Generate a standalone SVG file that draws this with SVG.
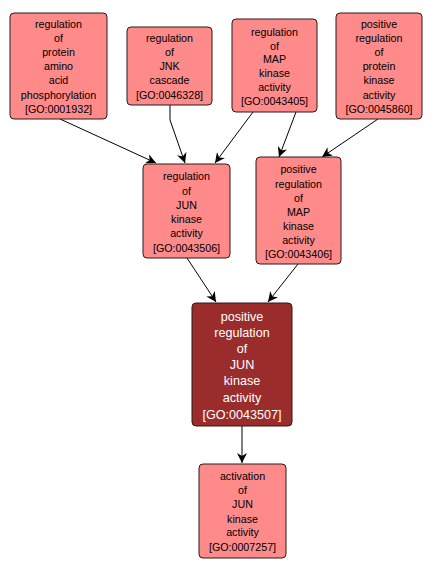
<svg xmlns="http://www.w3.org/2000/svg" width="433" height="571" viewBox="0 0 433 571">
<style>
.n rect{fill:#FF8A8A;stroke:#2a1a1a;stroke-width:1}
.n text{font-family:"Liberation Sans",Arial,sans-serif;font-size:10.7px;fill:#000;text-anchor:middle}
.d rect{fill:#9B2C2C;stroke:#2a1a1a;stroke-width:1}
.d text{font-family:"Liberation Sans",Arial,sans-serif;font-size:12.6px;fill:#fff;text-anchor:middle}
.e path{fill:none;stroke:#000;stroke-width:1;marker-end:url(#ah)}
</style>
<defs>
<marker id="ah" viewBox="0 0 10 10" refX="10" refY="5" markerWidth="10" markerHeight="10" markerUnits="userSpaceOnUse" orient="auto">
<path d="M0,0 L10,5 L0,10 L3,5 z" fill="#000"/>
</marker>
</defs>
<rect width="433" height="571" fill="#fff"/>
<g id="edges" class="e">
<path d="M60,119 L156,163"/>
<path d="M170,105 L170,120 L185,163"/>
<path d="M253,112 L215,163"/>
<path d="M296,112 L279,157"/>
<path d="M378,119 L322,157"/>
<path d="M187,258 L216,302"/>
<path d="M298,264 L268,302"/>
<path d="M242,426 L242,463"/>
</g>
<g id="GO0001932" class="n">
<rect x="10" y="13" width="97" height="106" rx="4"/>
<text x="58.5" y="28">regulation</text>
<text x="58.5" y="42">of</text>
<text x="58.5" y="56">protein</text>
<text x="58.5" y="70">amino</text>
<text x="58.5" y="84">acid</text>
<text x="58.5" y="99">phosphorylation</text>
<text x="58.5" y="113">[GO:0001932]</text>
</g>
<g id="GO0046328" class="n">
<rect x="127" y="27" width="85" height="78" rx="4"/>
<text x="169.5" y="42">regulation</text>
<text x="169.5" y="56">of</text>
<text x="169.5" y="70">JNK</text>
<text x="169.5" y="84">cascade</text>
<text x="169.5" y="99">[GO:0046328]</text>
</g>
<g id="GO0043405" class="n">
<rect x="232" y="19" width="85" height="93" rx="4"/>
<text x="274.5" y="36">regulation</text>
<text x="274.5" y="50">of</text>
<text x="274.5" y="63">MAP</text>
<text x="274.5" y="77">kinase</text>
<text x="274.5" y="91">activity</text>
<text x="274.5" y="105">[GO:0043405]</text>
</g>
<g id="GO0045860" class="n">
<rect x="336" y="13" width="86" height="106" rx="4"/>
<text x="379" y="28">positive</text>
<text x="379" y="42">regulation</text>
<text x="379" y="56">of</text>
<text x="379" y="70">protein</text>
<text x="379" y="84">kinase</text>
<text x="379" y="99">activity</text>
<text x="379" y="113">[GO:0045860]</text>
</g>
<g id="GO0043506" class="n">
<rect x="143" y="164" width="87" height="94" rx="4"/>
<text x="186.5" y="180">regulation</text>
<text x="186.5" y="195">of</text>
<text x="186.5" y="209">JUN</text>
<text x="186.5" y="223">kinase</text>
<text x="186.5" y="237">activity</text>
<text x="186.5" y="252">[GO:0043506]</text>
</g>
<g id="GO0043406" class="n">
<rect x="256" y="157" width="85" height="107" rx="4"/>
<text x="298.5" y="173">positive</text>
<text x="298.5" y="188">regulation</text>
<text x="298.5" y="202">of</text>
<text x="298.5" y="216">MAP</text>
<text x="298.5" y="230">kinase</text>
<text x="298.5" y="244">activity</text>
<text x="298.5" y="258">[GO:0043406]</text>
</g>
<g id="GO0043507" class="d">
<rect x="192" y="303" width="100" height="123" rx="4"/>
<text x="242" y="321">positive</text>
<text x="242" y="337">regulation</text>
<text x="242" y="353">of</text>
<text x="242" y="369">JUN</text>
<text x="242" y="385">kinase</text>
<text x="242" y="402">activity</text>
<text x="242" y="419">[GO:0043507]</text>
</g>
<g id="GO0007257" class="n">
<rect x="199" y="464" width="87" height="94" rx="4"/>
<text x="242.5" y="480">activation</text>
<text x="242.5" y="494">of</text>
<text x="242.5" y="508">JUN</text>
<text x="242.5" y="523">kinase</text>
<text x="242.5" y="536">activity</text>
<text x="242.5" y="551">[GO:0007257]</text>
</g>
</svg>
